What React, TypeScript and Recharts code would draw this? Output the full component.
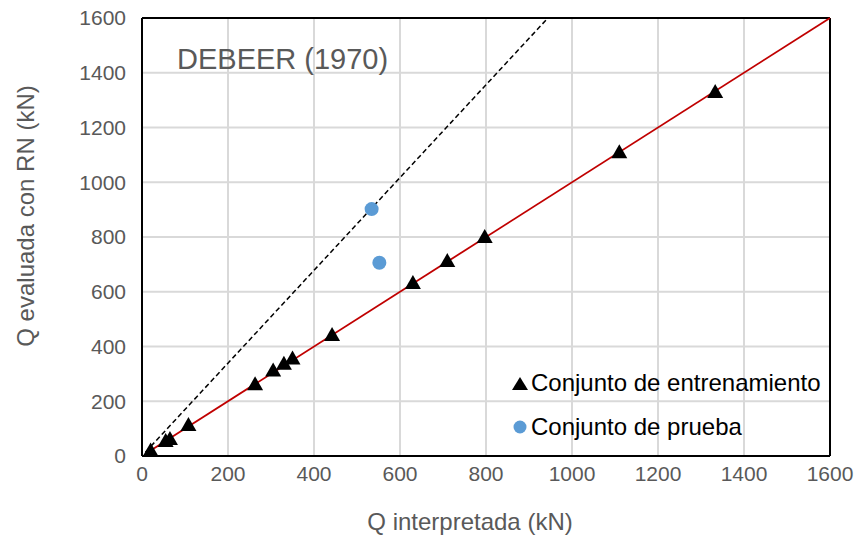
import {
  CartesianGrid,
  ReferenceLine,
  Scatter,
  ScatterChart,
  XAxis,
  YAxis,
} from "recharts";

const ticks = [0, 200, 400, 600, 800, 1000, 1200, 1400, 1600];

const trainX = [20, 55, 65, 108, 263, 305, 330, 350, 442, 630, 710, 797, 1110, 1333];
const trainY = [20, 55, 62, 113, 262, 312, 337, 356, 442, 632, 712, 800, 1110, 1330];

const testX = [534, 552];
const testY = [902, 706];

const dashedX = [8, 944];
const dashedY = [14, 1600];
const redX = [12, 1600];
const redY = [12, 1600];

const training = trainX.map((x, i) => ({ x, y: trainY[i] }));
const test = testX.map((x, i) => ({ x, y: testY[i] }));

const gray = "#595959";
const font = "'Liberation Sans', Arial, sans-serif";

const Triangle = (props: any) => {
  const { cx, cy } = props;
  return <polygon points={`${cx},${cy - 8} ${cx + 8},${cy + 6} ${cx - 8},${cy + 6}`} fill="#000" />;
};

const Dot = (props: any) => {
  const { cx, cy } = props;
  return <circle cx={cx} cy={cy} r={7} fill="#5b9bd5" />;
};

function LegendBox() {
  return (
    <div style={{ fontFamily: font, fontSize: 24, color: "#000", lineHeight: "44px" }}>
      <div style={{ display: "flex", alignItems: "center" }}>
        <svg width={18} height={16}>
          <polygon points="9,2 17,15 1,15" fill="#000" />
        </svg>
        <span style={{ marginLeft: 2 }}>Conjunto de entrenamiento</span>
      </div>
      <div style={{ display: "flex", alignItems: "center" }}>
        <svg width={18} height={16}>
          <circle cx={9} cy={8} r={6.5} fill="#5b9bd5" />
        </svg>
        <span style={{ marginLeft: 2 }}>Conjunto de prueba</span>
      </div>
    </div>
  );
}

export default function App() {
  return (
    <div style={{ position: "absolute", left: 0, top: 0, width: 858, height: 543, background: "#fff" }}>
      <ScatterChart
        width={858}
        height={543}
        margin={{ top: 18, right: 28, bottom: 57, left: 62 }}
        style={{ fontFamily: font }}
      >
        <CartesianGrid stroke="#d9d9d9" strokeWidth={2} />
        <XAxis
          type="number"
          dataKey="x"
          domain={[0, 1600]}
          ticks={ticks}
          tickLine={false}
          tickSize={0}
          tickMargin={10}
          axisLine={{ stroke: "#000", strokeWidth: 2 }}
          tick={{ fill: gray, fontSize: 21 }}
        />
        <YAxis
          type="number"
          dataKey="y"
          domain={[0, 1600]}
          ticks={ticks}
          width={80}
          tickLine={false}
          tickSize={0}
          tickMargin={16}
          axisLine={{ stroke: "#000", strokeWidth: 2 }}
          tick={{ fill: gray, fontSize: 21 }}
        />
        <ReferenceLine y={1600} stroke="#000" strokeWidth={2} />
        <ReferenceLine x={1600} stroke="#000" strokeWidth={2} />
        <ReferenceLine
          segment={[{ x: dashedX[0], y: dashedY[0] }, { x: dashedX[1], y: dashedY[1] }]}
          stroke="#000"
          strokeWidth={1.5}
          strokeDasharray="5 3"
        />
        <ReferenceLine
          segment={[{ x: redX[0], y: redY[0] }, { x: redX[1], y: redY[1] }]}
          stroke="#c00000"
          strokeWidth={1.8}
        />
        <Scatter name="Conjunto de entrenamiento" data={training} shape={Triangle} isAnimationActive={false} />
        <Scatter name="Conjunto de prueba" data={test} shape={Dot} isAnimationActive={false} />
      </ScatterChart>
      <div style={{ position: "absolute", left: 511, top: 361 }}>
        <LegendBox />
      </div>
      <div
        style={{
          position: "absolute",
          left: 177,
          top: 43,
          fontFamily: font,
          fontSize: 29,
          color: gray,
        }}
      >
        DEBEER (1970)
      </div>
      <div
        style={{
          position: "absolute",
          left: 270,
          width: 400,
          top: 508,
          textAlign: "center",
          fontFamily: font,
          fontSize: 24,
          color: gray,
          whiteSpace: "nowrap",
        }}
      >
        Q interpretada (kN)
      </div>
      <div
        style={{
          position: "absolute",
          left: 26 - 200,
          width: 400,
          top: 216 - 14,
          lineHeight: "28px",
          textAlign: "center",
          transform: "rotate(-90deg)",
          fontFamily: font,
          fontSize: 24,
          color: gray,
          whiteSpace: "nowrap",
        }}
      >
        Q evaluada con RN (kN)
      </div>
    </div>
  );
}
